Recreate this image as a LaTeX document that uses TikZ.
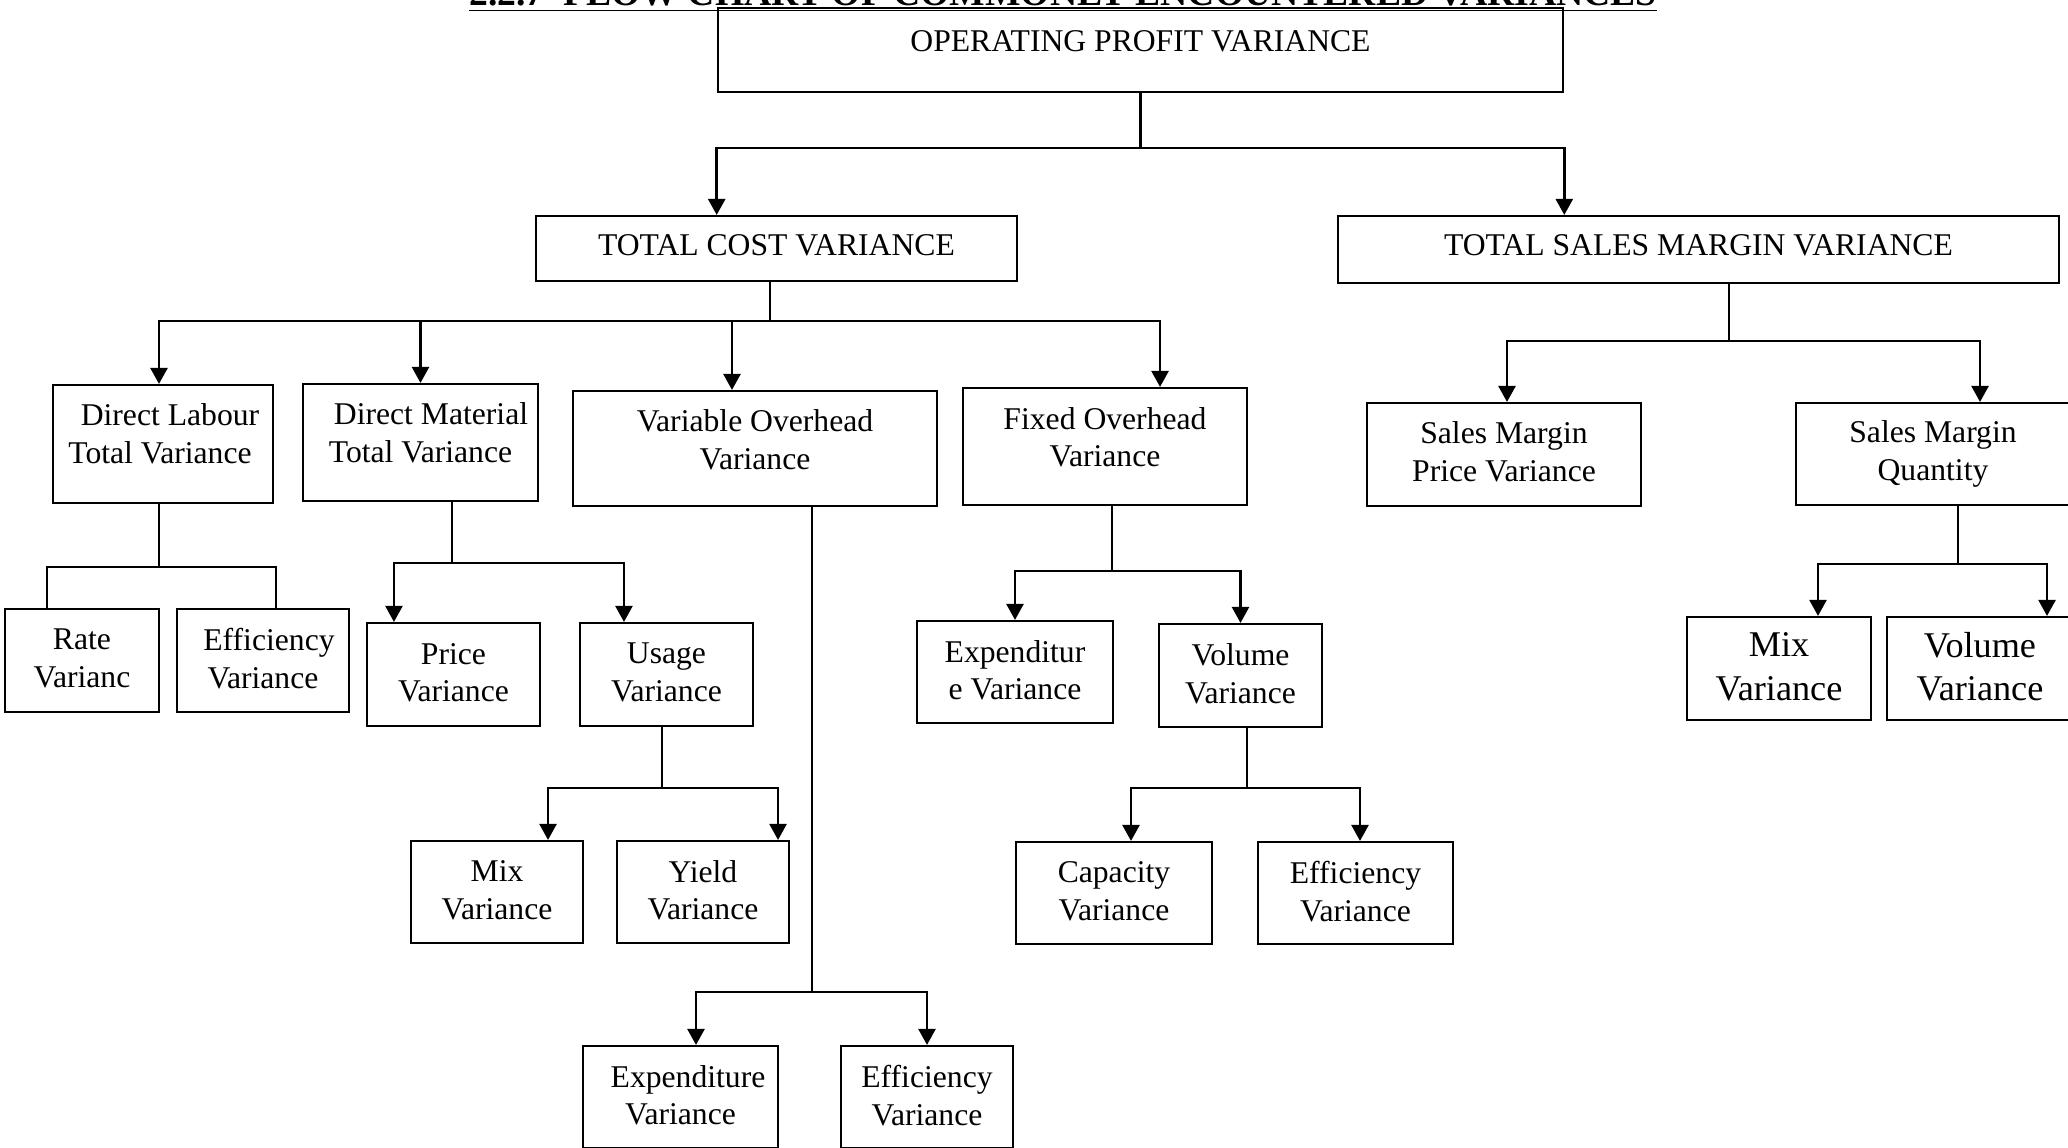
\documentclass[tikz,border=0pt]{standalone}
\usepackage{fontspec}
\setmainfont{Liberation Serif}
\usetikzlibrary{arrows.meta}

\begin{document}
\begin{tikzpicture}[
        x=0.01cm, y=-0.01cm,
        box/.style = {draw, line width=0.6pt, align=center, inner sep=0pt, text depth=0.04cm,
            font=\fontsize{9}{10.8}\selectfont},
        bigbox/.style = {box, font=\fontsize{10.3}{12.3}\selectfont},
        lift/.style = {text depth=#1},
        wire/.style = {line width=0.6pt},
        arr/.style = {line width=0.7pt, -{Triangle[width=0.17cm,length=0.16cm]}}
    ]
    \useasboundingbox (0,0) rectangle (2068,1147);
    \clip (0,0) rectangle (2068,1147);

    \node[anchor=base, inner sep=0pt, font=\bfseries\fontsize{10.7}{12}\selectfont] (title) at (1063,5)
        {\underline{2.2.7\ \ FLOW CHART OF COMMONLY ENCOUNTERED VARIANCES}};

    % top levels
    \node[box, minimum width=8.45cm, minimum height=0.84cm, lift=0.18cm] (op) at (1140.5,50) {OPERATING PROFIT VARIANCE};
    \node[box, minimum width=4.81cm, minimum height=0.65cm, lift=0.06cm] (tcv) at (776.5,248.5) {TOTAL COST VARIANCE};
    \node[box, minimum width=7.21cm, minimum height=0.67cm, lift=0.08cm] (tsmv) at (1698.5,249.5) {TOTAL SALES MARGIN VARIANCE};

    % cost side
    \node[box, minimum width=2.20cm, minimum height=1.18cm, lift=0.21cm] (dl) at (163,444) {\hspace*{0.14cm}Direct Labour\\Total Variance\hspace*{0.06cm}};
    \node[box, minimum width=2.35cm, minimum height=1.17cm, lift=0.20cm] (dm) at (420.5,442.5) {\hspace*{0.21cm}Direct Material\\Total Variance};
    \node[box, minimum width=3.64cm, minimum height=1.15cm, lift=0.18cm] (vo) at (755,448.5) {Variable Overhead\\Variance};
    \node[box, minimum width=2.84cm, minimum height=1.17cm, lift=0.19cm] (fo) at (1105,446.5) {Fixed Overhead\\Variance};

    \node[box, minimum width=1.54cm, minimum height=1.03cm] (rate) at (82,660.5) {Rate\\Varianc};
    \node[box, minimum width=1.72cm, minimum height=1.03cm] (dleff) at (263,660.5) {\hspace*{0.12cm}Efficiency\\Variance};
    \node[box, minimum width=1.73cm, minimum height=1.03cm] (price) at (453.5,674.5) {Price\\Variance};
    \node[box, minimum width=1.73cm, minimum height=1.03cm] (usage) at (666.5,674.5) {Usage\\Variance};
    \node[box, minimum width=1.72cm, minimum height=1.02cm] (mix) at (497,892) {Mix\\Variance};
    \node[box, minimum width=1.72cm, minimum height=1.02cm] (yield) at (703,892) {Yield\\Variance};
    \node[box, minimum width=1.95cm, minimum height=1.02cm] (voexp) at (680.5,1097) {\hspace*{0.15cm}Expenditure\\Variance};
    \node[box, minimum width=1.72cm, minimum height=1.02cm] (voeff) at (927,1097) {Efficiency\\Variance};
    \node[box, minimum width=1.96cm, minimum height=1.02cm] (foexp) at (1015,672) {Expenditur\\e Variance};
    \node[box, minimum width=1.63cm, minimum height=1.03cm] (fovol) at (1240.5,675.5) {Volume\\Variance};
    \node[box, minimum width=1.96cm, minimum height=1.02cm] (cap) at (1114,893) {Capacity\\Variance};
    \node[box, minimum width=1.95cm, minimum height=1.02cm] (foeff) at (1355.5,893) {Efficiency\\Variance};

    % sales side
    \node[box, minimum width=2.74cm, minimum height=1.03cm, lift=0.06cm] (smp) at (1504,454.5) {Sales Margin\\Price Variance};
    \node[box, minimum width=2.74cm, minimum height=1.02cm, lift=0.07cm] (smq) at (1933,454) {Sales Margin\\Quantity};
    \node[bigbox, minimum width=1.84cm, minimum height=1.03cm] (smmix) at (1779,668.5) {Mix\\Variance};
    \node[bigbox, minimum width=1.86cm, minimum height=1.03cm] (smvol) at (1980,668.5) {Volume\\Variance};

    % profit
    \draw[wire] (op.south) -- ++(0,55) coordinate (opj);
    \draw[arr] (opj) -| (op.west |- tcv.north);
    \draw[arr] (opj) -| (op.east |- tsmv.north);

    % cost
    \draw[wire] ([xshift=-0.065cm]tcv.south) -- ++(0,39) coordinate (tcvj);
    \draw[arr] (tcvj) -| ([xshift=-0.04cm]dl.north);
    \draw[arr] (tcvj) -| (dm.north);
    \draw[arr] (tcvj) -| ([xshift=-0.23cm]vo.north);
    \draw[arr] (tcvj) -| ([xshift=0.55cm]fo.north);

    % labour
    \draw[wire] ([xshift=-0.04cm]dl.south) -- ++(0,63) coordinate (dlj);
    \draw[wire] (dlj) -| ([xshift=-0.35cm]rate.north);
    \draw[wire] (dlj) -| ([xshift=0.13cm]dleff.north);

    % material
    \draw[wire] ([xshift=0.315cm]dm.south) -- ++(0,61) coordinate (dmj);
    \draw[arr] (dmj) -| ([xshift=-0.595cm]price.north);
    \draw[arr] (dmj) -| ([xshift=-0.425cm]usage.north);

    \draw[wire] ([xshift=-0.045cm]usage.south) -- ++(0,61) coordinate (usj);
    \draw[arr] (usj) -| ([xshift=0.51cm]mix.north);
    \draw[arr] (usj) -| ([xshift=0.75cm]yield.north);

    % variable overhead
    \draw[wire] ([xshift=0.57cm]vo.south) -- ++(0,485) coordinate (voj);
    \draw[arr] (voj) -| ([xshift=0.155cm]voexp.north);
    \draw[arr] (voj) -| (voeff.north);

    % fixed overhead
    \draw[wire] ([xshift=0.07cm]fo.south) -- ++(0,65) coordinate (foj);
    \draw[arr] (foj) -| (foexp.north);
    \draw[arr] (foj) -| (fovol.north);

    \draw[wire] ([xshift=0.065cm]fovol.south) -- ++(0,60) coordinate (fvj);
    \draw[arr] (fvj) -| ([xshift=0.17cm]cap.north);
    \draw[arr] (fvj) -| ([xshift=0.045cm]foeff.north);

    % sales margin
    \draw[wire] ([xshift=0.305cm]tsmv.south) -- ++(0,57) coordinate (smj);
    \draw[arr] (smj) -| ([xshift=0.03cm]smp.north);
    \draw[arr] (smj) -| ([xshift=0.47cm]smq.north);

    \draw[wire] ([xshift=0.25cm]smq.south) -- ++(0,58) coordinate (sqj);
    \draw[arr] (sqj) -| ([xshift=0.39cm]smmix.north);
    \draw[arr] (sqj) -| ([xshift=0.67cm]smvol.north);
\end{tikzpicture}
\end{document}
